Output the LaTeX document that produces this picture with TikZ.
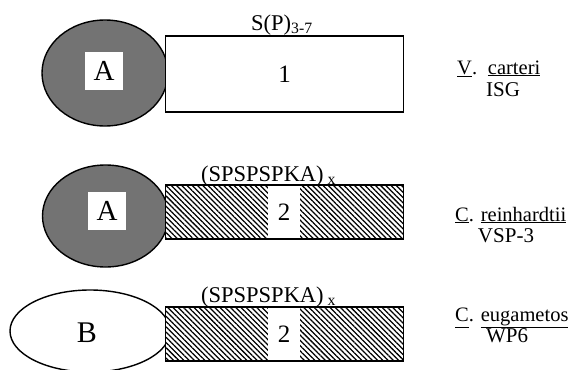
\documentclass[tikz,border=0pt]{standalone}
\usepackage{fontspec}
\setmainfont{Liberation Serif}
\usetikzlibrary{shapes.geometric,patterns.meta}
\tikzset{
  lw/.style={line width=1.4pt},
  corea/.style={ellipse, draw, lw, fill=black!55, inner sep=0pt, minimum width=126pt, minimum height=106pt},
  coreb/.style={ellipse, draw, lw, fill=white, inner sep=0pt, minimum width=160pt, minimum height=82pt},
  letterbox/.style={fill=white, inner sep=0pt, minimum width=38pt, minimum height=38pt, font=\fontsize{29}{29}\selectfont},
  plainbox/.style={draw, lw, fill=white, inner sep=0pt, minimum width=238pt, font=\fontsize{25}{25}\selectfont},
  hatchbox/.style={draw, lw, preaction={fill=white}, pattern={Lines[angle=-45, distance=3.7pt, line width=1.25pt]}, inner sep=0pt, minimum width=238pt, minimum height=54pt},
  gapbox/.style={fill=white, inner sep=0pt, minimum width=32pt, minimum height=52pt, font=\fontsize{25}{25}\selectfont},
  borderonly/.style={draw, lw, inner sep=0pt, minimum width=238pt, minimum height=54pt},
  toplabel/.style={anchor=base west, inner sep=0pt, font=\fontsize{22.5}{22.5}\selectfont},
  namelabel/.style={anchor=base west, inner sep=0pt, font=\fontsize{20.5}{20.5}\selectfont},
  sidelabel/.style={anchor=base, inner sep=0pt, font=\fontsize{21}{21}\selectfont}
}
\begin{document}
\begin{tikzpicture}[x=1pt,y=-1pt]
\useasboundingbox (0,0) rectangle (574,370);
% row 1
\node[corea] (e1) at (105,73) {};
\node[plainbox, minimum height=76pt] (r1) at (284.5,74) {1};
\node[letterbox] (a1) at (104,71) {A};
\node[toplabel] (t1) at (251,30) {S(P)\textsubscript{3-7}};
\node[namelabel] (n1) at (457,74) {\underline{V}.\hspace{4pt} \underline{carteri}};
\node[sidelabel] (s1) at (503,96) {ISG};
% row 2
\node[corea, minimum height=102pt] (e2) at (105.5,216) {};
\node[hatchbox] (r2) at (284.5,212) {};
\node[gapbox] (g2) at (284,212) {2};
\node[borderonly] (b2) at (r2) {};
\node[letterbox] (a2) at (107,211) {A};
\node[toplabel] (t2) at (201,181) {(SPSPSPKA)\,\textsubscript{x}};
\node[namelabel] (n2) at (455,221) {\underline{C}. \underline{reinhardtii}};
\node[sidelabel] (s2) at (506,242) {VSP-3};
% row 3
\node[coreb] (e3) at (90,331) {};
\node[hatchbox] (r3) at (284.5,334) {};
\node[gapbox] (g3) at (284,334) {2};
\node[borderonly] (b3) at (r3) {};
\node[font=\fontsize{30}{30}\selectfont, inner sep=0pt] (lb) at (87,333) {B};
\node[toplabel] (t3) at (201,302) {(SPSPSPKA)\,\textsubscript{x}};
\node[namelabel] (n3) at (455,321) {\underline{C\vphantom{g}}. \underline{eugametos}};
\node[sidelabel] (s3) at (507,342) {WP6};
\end{tikzpicture}
\end{document}
